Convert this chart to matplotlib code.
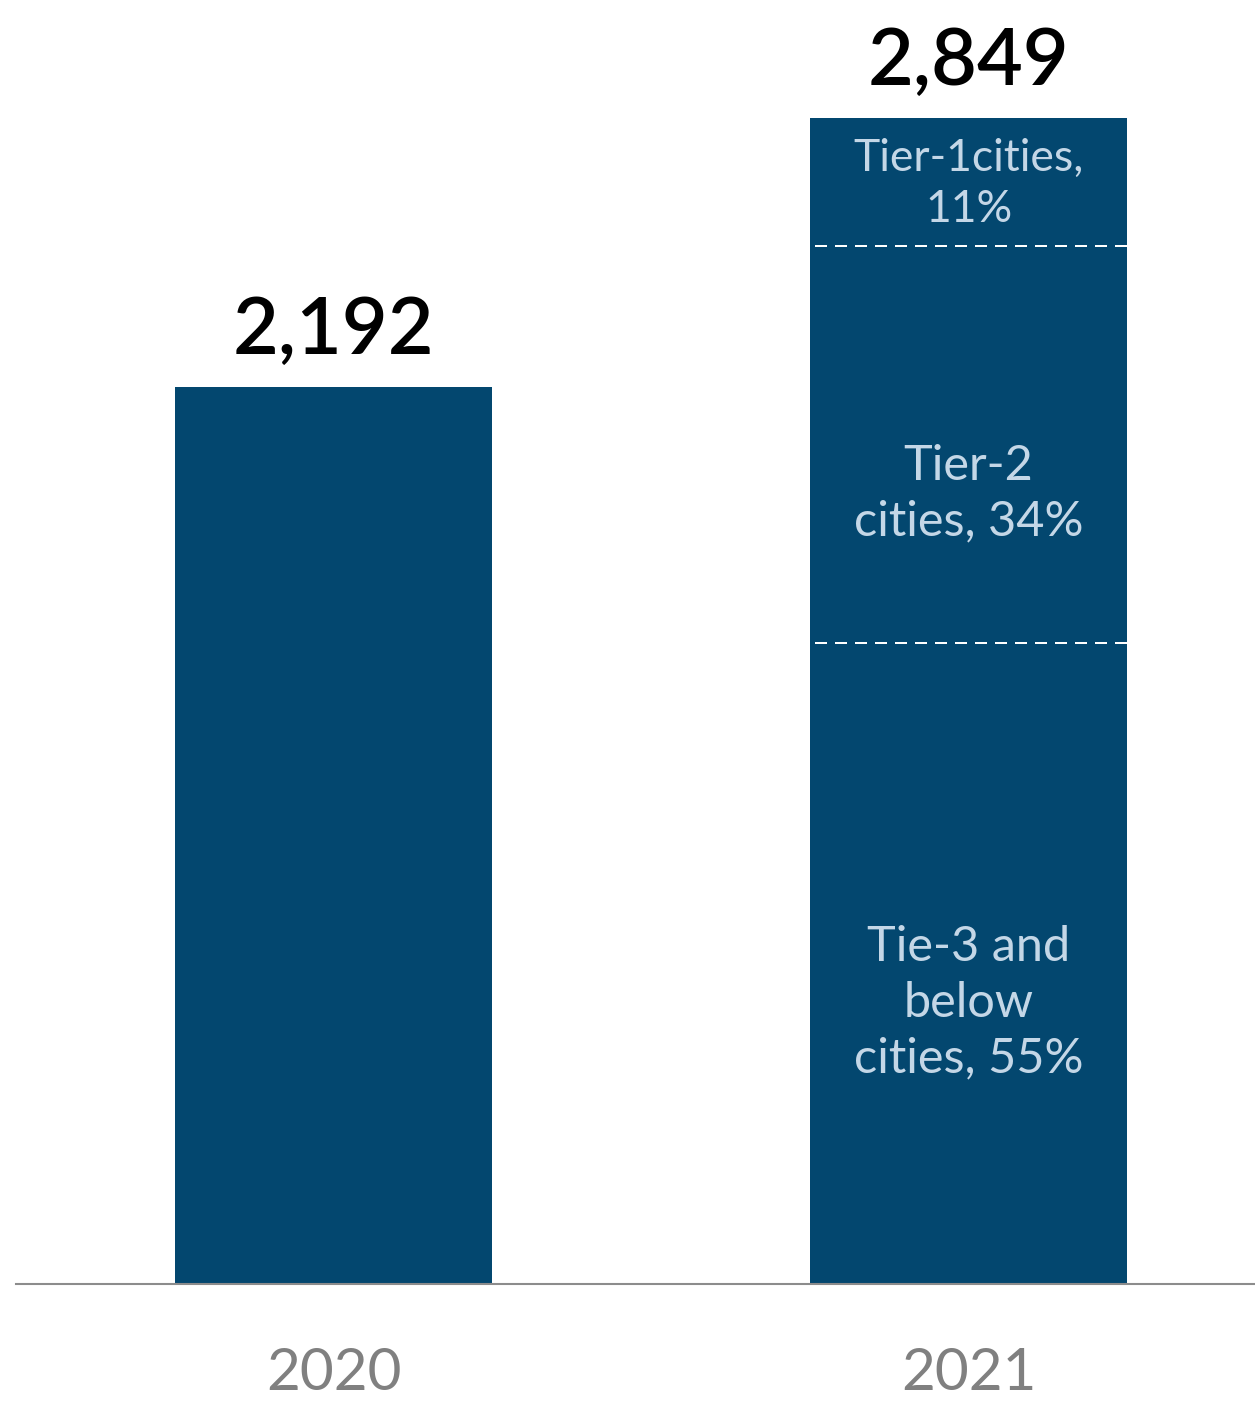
import matplotlib
matplotlib.use("Agg")
import matplotlib.pyplot as plt
import numpy as np

plt.rcParams['font.family'] = ['Lato', 'DejaVu Sans']

# Data
years = ["2020", "2021"]
totals = [2192, 2849]
total_labels = ["2,192", "2,849"]
segment_names = ["Tie-3 and\nbelow\ncities, 55%", "Tier-2\ncities, 34%", "Tier-1cities,\n11%"]
segment_shares = [0.55, 0.34, 0.11]

BAR = "#03476f"
INNER_TEXT = "#c4d7e7"
YEAR_GREY = "#808080"
AXIS_GREY = "#8c8c8c"

W, H = 1255, 1401
fig = plt.figure(figsize=(W / 100, H / 100), dpi=100)
base_px = 1284
ax = fig.add_axes([16 / W, (H - base_px) / H, (W - 16) / W, base_px / H])

px_per_unit = 1166 / 2849
ax.set_ylim(0, base_px / px_per_unit)
ax.set_xlim(-0.5, 1.451)

x = np.arange(len(years))
width = 0.5

# 2020: single bar
ax.bar(x[0], totals[0], width=width, color=BAR, linewidth=0)

# 2021: stacked by city tier
seg_vals = [totals[1] * s for s in segment_shares]
bottoms = np.concatenate([[0], np.cumsum(seg_vals)[:-1]])
bars21 = ax.bar([x[1]] * len(seg_vals), seg_vals, bottom=bottoms, width=width,
                color=BAR, linewidth=0)

# dashed separators between tiers
x0 = bars21[0].get_x()
x1 = x0 + bars21[0].get_width()
for b in bottoms[1:]:
    ax.hlines(b, x0 + 0.008, x1, colors="white", linewidth=1.44,
              linestyles=(0, (6, 4)), zorder=3)

# tier labels inside the 2021 bar
label_y = [1003, 494, 184]  # text-block centres, in pixels from the top
sizes = [35, 35, 32]
for name, ly, fs in zip(segment_names, label_y, sizes):
    yv = (base_px - ly) / px_per_unit
    ax.text(x[1], yv, name, ha="center", va="center", color=INNER_TEXT,
            fontsize=fs, fontweight="normal", linespacing=1.32, zorder=4)

# totals above the bars
for xi, v, lab in zip(x, totals, total_labels):
    ax.annotate(lab, xy=(xi, v), xytext=(0, 24), textcoords="offset points",
                ha="center", va="baseline", fontsize=57, fontweight="semibold",
                color="black")

# axes styling
for s in ["top", "right", "left"]:
    ax.spines[s].set_visible(False)
ax.spines["bottom"].set_color(AXIS_GREY)
ax.spines["bottom"].set_linewidth(1.5)
ax.set_yticks([])
ax.set_xticks(x, years)
ax.tick_params(axis="x", length=0, pad=45, labelsize=42, labelcolor=YEAR_GREY)

fig.savefig("out.png", dpi=100)
